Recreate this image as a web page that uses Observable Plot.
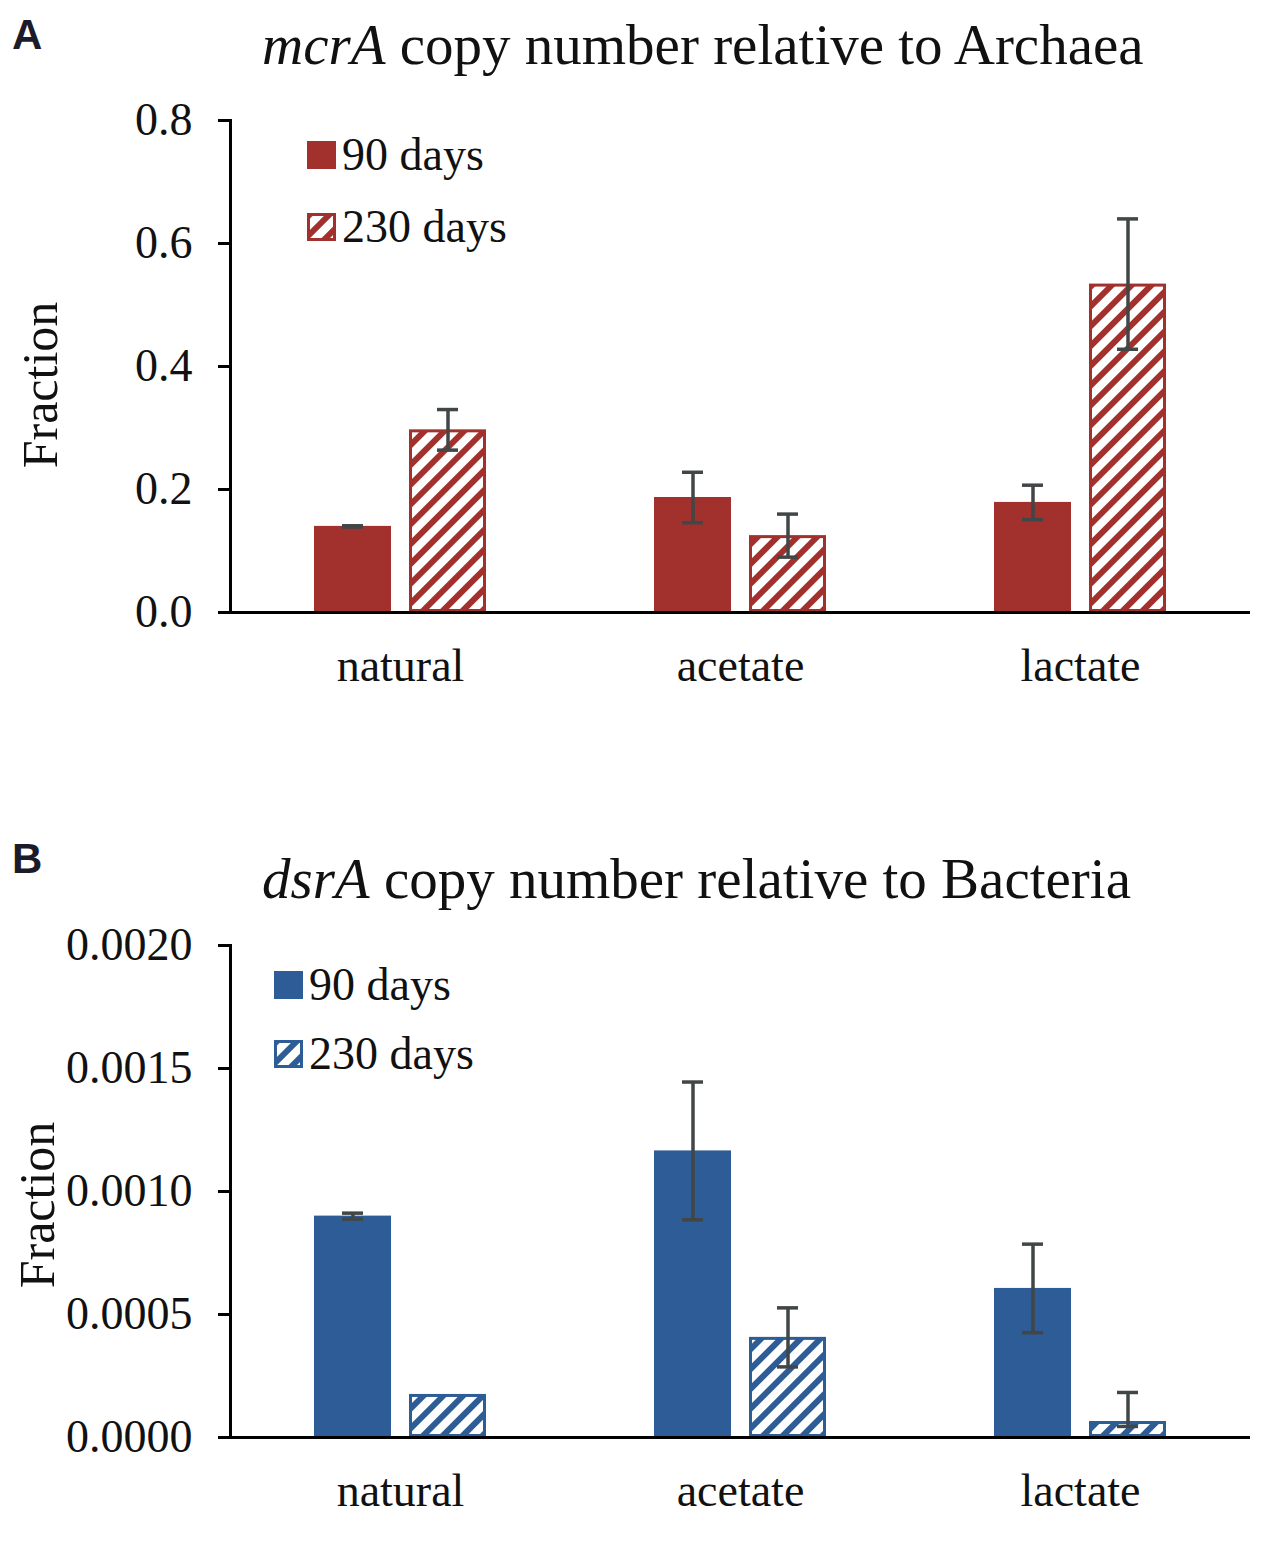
<!DOCTYPE html>
<html><head><meta charset="utf-8">
<script src="https://cdn.jsdelivr.net/npm/d3@7"></script>
<script src="https://cdn.jsdelivr.net/npm/@observablehq/plot@0.6"></script>
<style>
body{margin:0;background:#fff;}
#wrap{position:relative;width:1267px;height:1548px;font-family:"Liberation Serif","Times New Roman",serif;color:#111;overflow:hidden;}
.abs{position:absolute;line-height:1;white-space:nowrap;}
.letter{font-family:"Liberation Sans",Arial,sans-serif;font-weight:bold;font-size:42px;color:#1b1b2a;}
.title{font-size:57px;}
.leg{font-size:46px;display:flex;align-items:center;}
.leg svg{margin-right:6px;}
.ylab{font-size:50px;transform:translate(-50%,-50%) rotate(-90deg);}
</style>
</head><body>
<svg style="position:absolute;width:0;height:0" aria-hidden="true">
<defs>
<pattern id="hatchRed" patternUnits="userSpaceOnUse" width="14" height="14" patternTransform="rotate(45)">
<rect x="0" y="0" width="14" height="14" fill="#fff"/><rect x="0" y="0" width="6" height="14" fill="#A2302D"/>
</pattern>
<pattern id="hatchBlue" patternUnits="userSpaceOnUse" width="14" height="14" patternTransform="rotate(45)">
<rect x="0" y="0" width="14" height="14" fill="#fff"/><rect x="0" y="0" width="6" height="14" fill="#2E5C96"/>
</pattern>
</defs>
</svg>
<div id="wrap"></div>
<script>
// ---- data ----
const categories = ["natural", "acetate", "lactate"];
const series = ["90 days", "230 days"];

// Panel A: mcrA copy number relative to Archaea
const mcrA90 = [0.140, 0.187, 0.179];
const mcrA90Err = [0.001, 0.041, 0.028];
const mcrA230 = [0.297, 0.125, 0.534];
const mcrA230Err = [0.033, 0.035, 0.106];
const ticksA = [0, 0.2, 0.4, 0.6, 0.8];

// Panel B: dsrA copy number relative to Bacteria
const dsrA90 = [0.000900, 0.001165, 0.000606];
const dsrA90ErrUp = [0.000012, 0.000280, 0.000180];
const dsrA90ErrDown = [0.000012, 0.000280, 0.000180];
const dsrA230 = [0.000175, 0.000407, 0.000065];
const dsrA230ErrUp = [0, 0.000120, 0.000118];
const dsrA230ErrDown = [0, 0.000120, 0.000020];
const ticksB = [0, 0.0005, 0.0010, 0.0015, 0.0020];

const RED = "#A2302D", BLUE = "#2E5C96", ERR = "#414646";

function rowsFor(v90, up90, dn90, v230, up230, dn230) {
  const rows = [];
  categories.forEach((c, i) => {
    rows.push({cat: c, series: series[0], value: v90[i], up: up90[i], dn: dn90[i]});
    rows.push({cat: c, series: series[1], value: v230[i], up: up230[i], dn: dn230[i]});
  });
  return rows;
}

function makePanel({rows, solid, hatch, ticks, fmt, yMax}) {
  const withErr = rows.filter(d => d.up > 0 || d.dn > 0);
  return Plot.plot({
    width: 1267, height: 712,
    marginTop: 120, marginBottom: 100, marginLeft: 230, marginRight: 17,
    style: {fontFamily: '"Liberation Serif","Times New Roman",serif', fontSize: "46px", color: "#111", background: "transparent", overflow: "visible"},
    fx: {domain: categories, padding: 0, label: null, axis: null},
    x: {domain: series, paddingInner: 0.1875, paddingOuter: 0.865, axis: null},
    y: {domain: [0, yMax]},
    marks: [
      Plot.barY(rows.filter(d => d.series === series[0]), {fx: "cat", x: "series", y: "value", fill: solid}),
      Plot.barY(rows.filter(d => d.series === series[1]), {fx: "cat", x: "series", y: "value", fill: hatch, stroke: solid, strokeWidth: 3, inset: 1.5}),
      Plot.ruleX(withErr, {fx: "cat", x: "series", y1: d => d.value - d.dn, y2: d => d.value + d.up, stroke: ERR, strokeWidth: 3.5}),
      Plot.tickY(withErr, {fx: "cat", x: "series", y: d => d.value + d.up, stroke: ERR, strokeWidth: 3.5, insetLeft: 28, insetRight: 28}),
      Plot.tickY(withErr, {fx: "cat", x: "series", y: d => d.value - d.dn, stroke: ERR, strokeWidth: 3.5, insetLeft: 28, insetRight: 28}),
      Plot.ruleY([0], {stroke: "#000", strokeWidth: 3}),
      Plot.frame({anchor: "left", facetAnchor: "left", stroke: "#000", strokeWidth: 3}),
      Plot.axisY({ticks, tickFormat: fmt, tickSize: 12, tickPadding: 26, strokeWidth: 3, stroke: "#000", label: null, fill: "#111"}),
      Plot.axisFx({anchor: "bottom", tickSize: 0, tickPadding: 36, label: null, fill: "#111"})
    ]
  });
}

const wrap = document.getElementById("wrap");
function add(html, cls, left, top) {
  const d = document.createElement("div");
  d.className = "abs " + cls;
  d.style.left = left + "px"; d.style.top = top + "px";
  d.innerHTML = html;
  wrap.appendChild(d);
  return d;
}
function swatch(fill, stroke) {
  return `<svg width="29" height="28"><rect x="1.5" y="1.5" width="26" height="25" fill="${fill}" stroke="${stroke}" stroke-width="3"/></svg>`;
}

// Panel A
const svgA = makePanel({rows: rowsFor(mcrA90, mcrA90Err, mcrA90Err, mcrA230, mcrA230Err, mcrA230Err), solid: RED, hatch: "url(#hatchRed)", ticks: ticksA, fmt: d3.format(".1f"), yMax: 0.8});
svgA.style.position = "absolute"; svgA.style.left = "0px"; svgA.style.top = "0px";
wrap.appendChild(svgA);
add("A", "letter", 12, 14);
add("<i>mcrA</i> copy number relative to Archaea", "title", 262, 16);
add(swatch(RED, RED) + series[0], "leg", 307, 132);
add(swatch("url(#hatchRed)", RED) + series[1], "leg", 307, 204);
add("Fraction", "ylab", 40, 385);

// Panel B
const offB = 825;
const svgB = makePanel({rows: rowsFor(dsrA90, dsrA90ErrUp, dsrA90ErrDown, dsrA230, dsrA230ErrUp, dsrA230ErrDown), solid: BLUE, hatch: "url(#hatchBlue)", ticks: ticksB, fmt: d3.format(".4f"), yMax: 0.002});
svgB.style.position = "absolute"; svgB.style.left = "0px"; svgB.style.top = offB + "px";
wrap.appendChild(svgB);
add("B", "letter", 12, 838);
add("<i>dsrA</i> copy number relative to Bacteria", "title", 262, 850);
add(swatch(BLUE, BLUE) + series[0], "leg", 274, 962);
add(swatch("url(#hatchBlue)", BLUE) + series[1], "leg", 274, 1031);
add("Fraction", "ylab", 37, 1205);
</script>
</body></html>
